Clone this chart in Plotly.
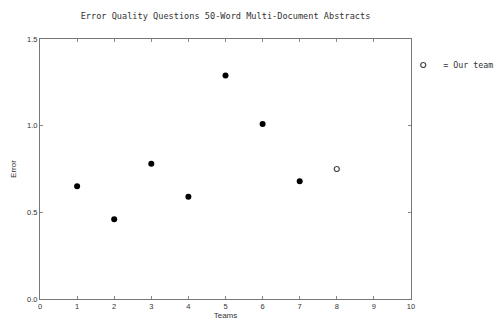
import plotly.graph_objects as go

teams = [1, 2, 3, 4, 5, 6, 7]
errors = [0.65, 0.46, 0.78, 0.59, 1.29, 1.01, 0.68]
our_team = [8]
our_error = [0.75]

x_ticks = [0, 1, 2, 3, 4, 5, 6, 7, 8, 9, 10]
y_ticks = [0.0, 0.5, 1.0, 1.5]
y_tick_labels = ["0.0", "0.5", "1.0", "1.5"]

fig = go.Figure()
fig.add_trace(go.Scatter(
    x=teams, y=errors, mode="markers",
    marker=dict(symbol="circle", size=6, color="black"),
    showlegend=False, hoverinfo="x+y",
))
fig.add_trace(go.Scatter(
    x=our_team, y=our_error, mode="markers",
    marker=dict(symbol="circle-open", size=5, color="#444444", line=dict(width=1.2)),
    name="= Our team", showlegend=True,
))

axis_common = dict(
    showline=True, linecolor="#777777", linewidth=1, mirror="ticks",
    ticks="inside", ticklen=3, tickcolor="#888888", tickwidth=1,
    showgrid=False, zeroline=False,
    tickfont=dict(family="Liberation Sans, Arial", size=7.5, color="#333333"),
)

fig.update_layout(
    width=494, height=323,
    margin=dict(l=40, r=83, t=39, b=24, autoexpand=False),
    paper_bgcolor="white", plot_bgcolor="white",
    title=dict(
        text="Error Quality Questions 50-Word Multi-Document Abstracts",
        x=0.5, xref="paper", y=1 - 16 / 323, yanchor="middle",
        font=dict(family="DejaVu Sans Mono", size=8.6, color="#333333"),
    ),
    xaxis=dict(
        range=[0, 10], tickvals=x_ticks, ticktext=[str(v) for v in x_ticks],
        title=dict(text="Teams", standoff=1,
                   font=dict(family="Liberation Sans, Arial", size=8, color="#333333")),
        **axis_common,
    ),
    yaxis=dict(
        range=[0, 1.5], tickvals=y_ticks, ticktext=y_tick_labels,
        title=dict(text="Error", standoff=9,
                   font=dict(family="Liberation Sans, Arial", size=8, color="#333333")),
        **axis_common,
    ),
    legend=dict(
        x=0.979, y=0.9, xanchor="left", yanchor="middle",
        font=dict(family="DejaVu Sans Mono", size=8.3, color="#333333"),
        bgcolor="rgba(0,0,0,0)", borderwidth=0,
    ),
)

fig.write_html("out.html")
